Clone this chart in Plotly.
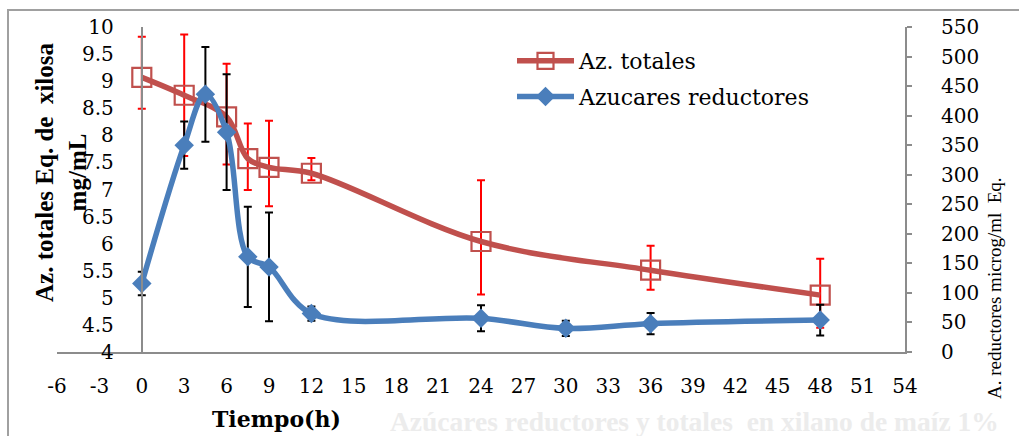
import plotly.graph_objects as go

# Sampling times (h)
t_totales = [0, 3, 6, 7.5, 9, 12, 24, 36, 48]
t_reductores = [0, 3, 4.5, 6, 7.5, 9, 12, 24, 30, 36, 48]

# Total sugars (mg/mL xylose eq.) with upper / lower error
totales = [9.07, 8.74, 8.34, 7.57, 7.41, 7.30, 6.04, 5.51, 5.05]
totales_err_up = [0.75, 1.12, 0.98, 0.65, 0.86, 0.28, 1.13, 0.45, 0.67]
totales_err_dn = [0.58, 1.12, 0.88, 0.58, 0.72, 0.13, 0.98, 0.36, 0.60]

# Reducing sugars (microg/mL eq.) with error
reductores = [116, 350, 436, 372, 161, 144, 65, 57, 40, 48, 54]
reductores_err = [20, 40, 80, 98, 85, 92, 12, 22, 13, 18, 26]

x_ticks = list(range(-6, 55, 3))

W, H = 1019, 436
ML, MR, MT, MB = 57, 114, 27, 84
PW, PH = W - ML - MR, H - MT - MB


def px(x):
    return (x - ML) / PW


def py(y):
    return (H - MB - y) / PH


RED = "#C0504D"
BLUE = "#4A7EBB"
AXIS = "#8C8C8C"
TICK_FONT = dict(family="DejaVu Serif", size=20, color="black")

fig = go.Figure()

fig.add_trace(go.Scatter(
    x=t_totales, y=totales, name="Az. totales", legendgroup="tot",
    mode="lines+markers",
    line=dict(color=RED, width=5.5, shape="spline", smoothing=1),
    marker=dict(symbol="square-open", size=19, color=RED, line=dict(width=2.2, color=RED)),
    error_y=dict(type="data", array=totales_err_up, arrayminus=totales_err_dn,
                 color="#FF0000", thickness=2, width=4),
    yaxis="y",
))

fig.add_trace(go.Scatter(
    x=t_reductores, y=reductores, name="Azucares reductores", legendgroup="red",
    mode="lines+markers",
    line=dict(color=BLUE, width=5.5, shape="spline", smoothing=1),
    marker=dict(symbol="diamond", size=15, color=BLUE),
    error_y=dict(type="data", array=reductores_err,
                 color="black", thickness=2, width=4),
    yaxis="y2",
))

fig.update_layout(
    width=W, height=H,
    margin=dict(l=ML, r=MR, t=MT, b=MB, pad=0),
    paper_bgcolor="white", plot_bgcolor="white",
    showlegend=True,
    legend=dict(
        x=px(512), y=py(40), xanchor="left", yanchor="top",
        font=dict(family="DejaVu Serif", size=22, color="black"),
        bgcolor="rgba(0,0,0,0)", itemwidth=57,
        traceorder="grouped", tracegroupgap=4,
    ),
    xaxis=dict(
        range=[-6, 54], tickvals=x_ticks, ticktext=[str(v) for v in x_ticks],
        showgrid=False, zeroline=False, showline=True, linecolor=AXIS, linewidth=2,
        ticks="", tickfont=TICK_FONT, ticklabelstandoff=15,
    ),
    yaxis=dict(
        range=[4, 10], dtick=0.5,
        showgrid=False, zeroline=False, showline=True, linecolor=AXIS, linewidth=2,
        anchor="free", position=6 / 60, ticks="", tickfont=TICK_FONT,
        ticklabelstandoff=23,
    ),
    yaxis2=dict(
        range=[0, 550], dtick=50, overlaying="y", side="right", anchor="x",
        showgrid=False, zeroline=False, showline=True, linecolor=AXIS, linewidth=2,
        ticks="outside", ticklen=5, tickcolor=AXIS, tickwidth=1.5,
        tickfont=TICK_FONT, ticklabelstandoff=25,
    ),
    shapes=[dict(
        type="rect", xref="paper", yref="paper",
        x0=px(8), x1=px(W + 20), y0=py(H + 20), y1=py(10),
        line=dict(color="#A0A0A0", width=2), fillcolor="rgba(0,0,0,0)", layer="below",
    )],
    annotations=[
        dict(text="<b>Az. totales Eq. de  xilosa<br>mg/mL</b>", textangle=-90,
             xref="paper", yref="paper", x=px(61), y=py(172),
             xanchor="center", yanchor="middle", showarrow=False,
             font=dict(family="Liberation Serif", size=25, color="black")),
        dict(text="A. reductores microg/ml  Eq.", textangle=-90,
             xref="paper", yref="paper", x=px(994), y=py(288),
             xanchor="center", yanchor="middle", showarrow=False,
             font=dict(family="Liberation Serif", size=19, color="black")),
        dict(text="<b>Tiempo(h)</b>",
             xref="paper", yref="paper", x=px(276), y=py(419),
             xanchor="center", yanchor="middle", showarrow=False,
             font=dict(family="DejaVu Serif", size=22, color="black")),
        dict(text="<b>Azúcares reductores y totales  en xilano de maíz 1%</b>",
             xref="paper", yref="paper", x=px(388), y=py(421),
             xanchor="left", yanchor="middle", showarrow=False,
             font=dict(family="Liberation Serif", size=27.5, color="#ECECEC")),
    ],
)

fig.write_html("out.html")
